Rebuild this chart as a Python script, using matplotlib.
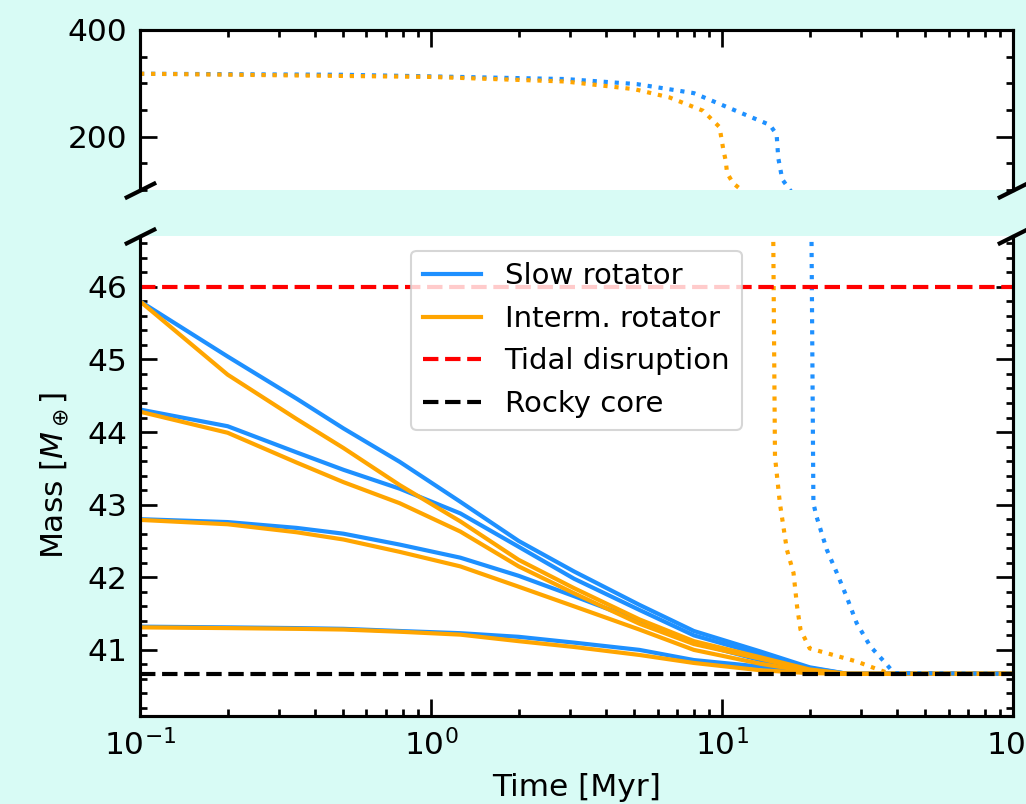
import numpy as np
import matplotlib.pyplot as plt
from matplotlib.ticker import MultipleLocator

# time grid of the solid tracks [Myr]
t_solid = [0.1, 0.2, 0.345, 0.5, 0.78, 1.26, 2.0, 3.1, 5.2, 8.0, 13.5, 20.0, 27.0, 100.0]

# slow rotator, mass [M_earth]
slow_1 = [45.80, 45.04, 44.46, 44.05, 43.59, 43.04, 42.50, 42.08, 41.62, 41.26, 40.98, 40.76, 40.67, 40.67]
slow_2 = [44.31, 44.08, 43.72, 43.48, 43.22, 42.88, 42.42, 41.98, 41.55, 41.20, 40.94, 40.75, 40.67, 40.67]
slow_3 = [42.80, 42.76, 42.68, 42.60, 42.45, 42.27, 42.02, 41.74, 41.40, 41.10, 40.86, 40.72, 40.67, 40.67]
slow_4 = [41.32, 41.31, 41.30, 41.29, 41.26, 41.23, 41.18, 41.10, 41.00, 40.86, 40.77, 40.70, 40.67, 40.67]

# intermediate rotator
interm_1 = [45.80, 44.79, 44.18, 43.78, 43.27, 42.77, 42.24, 41.85, 41.42, 41.12, 40.90, 40.73, 40.67, 40.67]
interm_2 = [44.28, 43.99, 43.58, 43.31, 43.02, 42.63, 42.15, 41.78, 41.36, 41.08, 40.88, 40.72, 40.67, 40.67]
interm_3 = [42.79, 42.73, 42.62, 42.52, 42.35, 42.15, 41.87, 41.60, 41.28, 41.00, 40.81, 40.70, 40.67, 40.67]
interm_4 = [41.31, 41.30, 41.29, 41.28, 41.25, 41.21, 41.12, 41.04, 40.93, 40.82, 40.72, 40.68, 40.67, 40.67]

# Jupiter-mass planet (dotted)
t_slow_j = [0.1, 0.5, 1.0, 2.9, 5.1, 8.0, 11.5, 14.6, 15.4, 15.6, 16.1, 17.0, 19.5,
            20.3, 20.6, 21.1, 22.9, 24.8, 26.8, 29.0, 32.3, 36.4, 39.0, 100.0]
m_slow_j = [318, 316, 313, 308, 298.5, 281.6, 245.5, 222, 204, 160, 120, 102, 60,
            46.6, 43.02, 42.84, 42.38, 42.06, 41.73, 41.37, 41.05, 40.82, 40.68, 40.67]
t_interm_j = [0.1, 1.0, 2.9, 5.0, 6.6, 8.6, 9.8, 10.1, 10.3, 10.4, 10.9, 11.6, 14.0,
              15.0, 15.2, 15.8, 16.7, 17.6, 18.1, 18.6, 20.0, 24.1, 29.0, 34.9, 38.0, 100.0]
m_interm_j = [318, 312, 303.4, 289, 273.5, 248.6, 218, 175.7, 154, 132, 113, 101, 60,
              46.6, 43.66, 43.02, 42.38, 42.06, 41.6, 41.28, 41.02, 40.93, 40.84, 40.72, 40.67, 40.67]

m_tidal = 46.0
m_core = 40.67

c_slow = '#1E90FF'
c_interm = 'orange'

plt.rcParams['font.size'] = 15
fig = plt.figure(figsize=(6.84, 5.36), dpi=150)
fig.patch.set_facecolor('#d8fbf5')

ax_top = fig.add_axes([0.1365, 0.7637, 0.8509, 0.199])
ax_bot = fig.add_axes([0.1365, 0.1095, 0.8509, 0.597])

for ax in (ax_top, ax_bot):
    for m in (slow_1, slow_2, slow_3, slow_4):
        ax.plot(t_solid, m, color=c_slow, lw=2)
    for m in (interm_1, interm_2, interm_3, interm_4):
        ax.plot(t_solid, m, color=c_interm, lw=2)
    ax.plot(t_slow_j, m_slow_j, color=c_slow, lw=2, ls=':')
    ax.plot(t_interm_j, m_interm_j, color=c_interm, lw=2, ls=':')
    ax.set_xscale('log')
    ax.set_xlim(0.1, 100)
    ax.tick_params(which='both', direction='in', right=True, width=1.3, pad=6)
    ax.tick_params(which='major', length=8)
    ax.tick_params(which='minor', length=3.5)
    for s in ax.spines.values():
        s.set_linewidth(1.5)

ax_bot.axhline(m_tidal, color='red', ls='--', lw=2)
ax_bot.axhline(m_core, color='black', ls='--', lw=2)

ax_top.set_ylim(100, 400)
ax_top.yaxis.set_major_locator(MultipleLocator(200))
ax_top.yaxis.set_minor_locator(MultipleLocator(50))
ax_top.spines['bottom'].set_visible(False)
ax_top.tick_params(which='both', top=True, bottom=False, labelbottom=False)

ax_bot.set_ylim(40.09, 46.7)
ax_bot.yaxis.set_major_locator(MultipleLocator(1))
ax_bot.yaxis.set_minor_locator(MultipleLocator(0.2))
ax_bot.spines['top'].set_visible(False)
ax_bot.tick_params(which='both', top=False)

# break marks
d = 0.5
kw = dict(marker=[(-1, -d), (1, d)], markersize=15, linestyle='none',
          color='k', mec='k', mew=2, clip_on=False)
ax_top.plot([0, 1], [0, 0], transform=ax_top.transAxes, **kw)
ax_bot.plot([0, 1], [1, 1], transform=ax_bot.transAxes, **kw)

handles = [plt.Line2D([], [], color=c_slow, lw=2),
           plt.Line2D([], [], color=c_interm, lw=2),
           plt.Line2D([], [], color='red', ls='--', lw=2),
           plt.Line2D([], [], color='black', ls='--', lw=2)]
ax_bot.legend(handles, ['Slow rotator', 'Interm. rotator', 'Tidal disruption', 'Rocky core'],
              loc='upper center', fontsize=14)

ax_bot.set_xlabel('Time [Myr]', labelpad=6)
ax_bot.set_ylabel(r'Mass [$M_\oplus$]', labelpad=8)

fig.savefig('out.png', dpi=150)
